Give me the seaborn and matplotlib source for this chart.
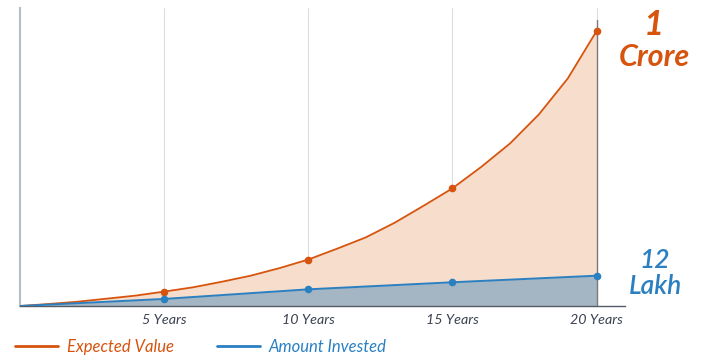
import matplotlib
matplotlib.use("Agg")
import matplotlib.pyplot as plt
from matplotlib.lines import Line2D
import seaborn as sns

# ---- data (values in lakh) ----
years = list(range(21))
expected_value = [0, 0.8, 1.7, 2.9, 4.1, 5.7, 7.4, 9.6, 12.0, 15.0, 18.4,
                  22.7, 27.2, 33.0, 39.7, 46.6, 55.1, 64.4, 75.9, 90.1, 108.9]
invested_years = [0, 5, 10, 15, 20]
amount_invested = [0, 2.8, 6.6, 9.4, 12.0]
tick_years = [5, 10, 15, 20]
tick_labels = ["5 Years", "10 Years", "15 Years", "20 Years"]
series_names = ["Expected Value", "Amount Invested"]
end_labels = [("1", "Crore"), ("12", "Lakh")]

ORANGE = "#d6540e"
ORANGE_FILL = "#f7ddcc"
BLUE = "#2b80c2"
BLUE_FILL = "#a4b6c3"
TICK_COL = "#3b4150"

sns.set_style("white")
plt.rcParams["font.family"] = ["Lato", "DejaVu Sans"]

W, H = 720, 360
fig = plt.figure(figsize=(7.2, 3.6), dpi=100)
ax = fig.add_axes([20 / W, (H - 306) / H, (625 - 20) / W, (306 - 8) / H])

ax.fill_between(years, expected_value, 0, color=ORANGE_FILL, linewidth=0, zorder=1)
ax.fill_between(invested_years, amount_invested, 0, color=BLUE_FILL, linewidth=0, zorder=2)

sns.lineplot(x=years, y=expected_value, ax=ax, color=ORANGE, linewidth=1.3,
             marker="o", markersize=5.5, markeredgewidth=0,
             markevery=[5, 10, 15, 20], zorder=4)
sns.lineplot(x=invested_years, y=amount_invested, ax=ax, color=BLUE, linewidth=1.4,
             marker="o", markersize=5.5, markeredgewidth=0,
             markevery=[1, 2, 3, 4], zorder=4)

ax.set_xlim(0, 605 / 28.83)
ax.set_ylim(0, 298 / 2.525)

ax.set_xticks(tick_years)
ax.set_xticklabels(tick_labels, fontstyle="italic", fontsize=10.3, color=TICK_COL)
ax.set_yticks([])
ax.tick_params(axis="x", length=4, width=0.8, color="#888888", pad=2)

ax.xaxis.grid(True, color="#dcdcdc", linewidth=0.8, zorder=0)
ax.set_axisbelow(True)
ax.axvline(20, color="#7a7a7a", linewidth=1.0, ymax=(306 - 20) / 298, zorder=3)

for s in ["top", "right"]:
    ax.spines[s].set_visible(False)
ax.spines["bottom"].set_color("#555b66")
ax.spines["bottom"].set_linewidth(1.0)
ax.spines["left"].set_color("#b5bec8")
ax.spines["left"].set_linewidth(1.5)

# end labels
fig.text(654 / W, 1 - 25 / H, end_labels[0][0], color=ORANGE, fontsize=25,
         fontweight="bold", fontstyle="italic", ha="center", va="center")
fig.text(654 / W, 1 - 57 / H, end_labels[0][1], color=ORANGE, fontsize=22,
         fontweight="bold", fontstyle="italic", ha="center", va="center")
fig.text(655 / W, 1 - 261 / H, end_labels[1][0], color=BLUE, fontsize=19,
         fontweight="semibold", fontstyle="italic", ha="center", va="center")
fig.text(655 / W, 1 - 286 / H, end_labels[1][1], color=BLUE, fontsize=19,
         fontweight="semibold", fontstyle="italic", ha="center", va="center")

handles = [Line2D([], [], color=ORANGE, linewidth=2.0),
           Line2D([], [], color=BLUE, linewidth=2.0)]
fig.legend(handles, series_names, loc="center left",
           bbox_to_anchor=(0 / W, 1 - 347 / H), ncol=2, frameon=False,
           handlelength=2.6, handletextpad=0.5, columnspacing=2.6,
           labelcolor=[ORANGE, BLUE],
           prop={"family": "Lato", "style": "italic", "size": 12})

fig.savefig("out.png", dpi=100)
